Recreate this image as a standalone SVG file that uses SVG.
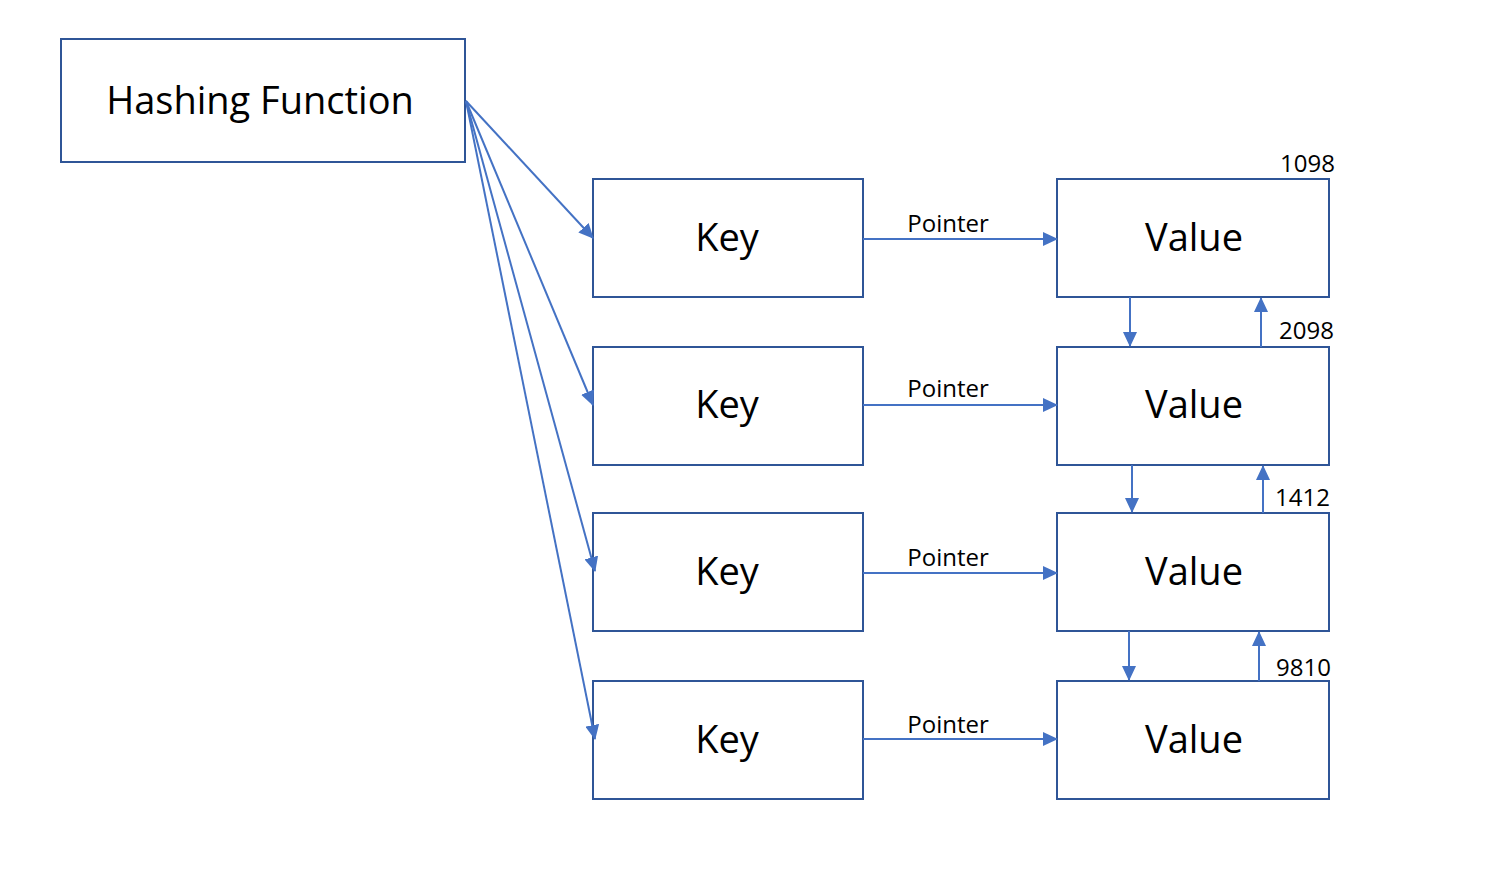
<svg xmlns="http://www.w3.org/2000/svg" width="1502" height="876" viewBox="0 0 1502 876">
<style>
.box{fill:#fff;stroke:#2F5597;stroke-width:2}
.big{font-family:"Open Sans","Noto Sans",sans-serif;font-size:38px;fill:#000;text-anchor:middle;dominant-baseline:central}
.lbl{font-family:"Open Sans","Noto Sans",sans-serif;font-size:24px;fill:#000}
.c{stroke:#4472C4;stroke-width:2;fill:none;marker-end:url(#ah)}
</style>
<defs>
<marker id="ah" viewBox="0 0 15 14" refX="14" refY="7" markerWidth="15" markerHeight="14" markerUnits="userSpaceOnUse" orient="auto">
<path d="M0,0 L15,7 L0,14 z" fill="#4472C4"/>
</marker>
</defs>
<rect width="1502" height="876" fill="#fff"/>
<g id="hash"><rect class="box" x="61" y="39" width="404" height="123"/><text class="big" x="260" y="99" font-size="35.5">Hashing Function</text></g>
<g id="key1"><rect class="box" x="593" y="179" width="270" height="118"/><text class="big" x="727" y="236">Key</text></g>
<g id="key2"><rect class="box" x="593" y="347" width="270" height="118"/><text class="big" x="727" y="403">Key</text></g>
<g id="key3"><rect class="box" x="593" y="513" width="270" height="118"/><text class="big" x="727" y="570">Key</text></g>
<g id="key4"><rect class="box" x="593" y="681" width="270" height="118"/><text class="big" x="727" y="738">Key</text></g>
<g id="val1"><rect class="box" x="1057" y="179" width="272" height="118"/><text class="big" x="1194" y="236">Value</text></g>
<g id="val2"><rect class="box" x="1057" y="347" width="272" height="118"/><text class="big" x="1194" y="403">Value</text></g>
<g id="val3"><rect class="box" x="1057" y="513" width="272" height="118"/><text class="big" x="1194" y="570">Value</text></g>
<g id="val4"><rect class="box" x="1057" y="681" width="272" height="118"/><text class="big" x="1194" y="738">Value</text></g>
<g id="connectors">
<line class="c" x1="466" y1="101" x2="593" y2="238"/>
<line class="c" x1="466" y1="101" x2="593" y2="405"/>
<line class="c" x1="466" y1="101" x2="595" y2="571"/>
<line class="c" x1="466" y1="101" x2="595" y2="739"/>
<line class="c" x1="863" y1="239" x2="1057" y2="239"/>
<line class="c" x1="863" y1="405" x2="1057" y2="405"/>
<line class="c" x1="863" y1="573" x2="1057" y2="573"/>
<line class="c" x1="863" y1="739" x2="1057" y2="739"/>
<line class="c" x1="1130" y1="297" x2="1130" y2="346"/>
<line class="c" x1="1261" y1="347" x2="1261" y2="298"/>
<line class="c" x1="1132" y1="465" x2="1132" y2="512"/>
<line class="c" x1="1263" y1="513" x2="1263" y2="466"/>
<line class="c" x1="1129" y1="631" x2="1129" y2="680"/>
<line class="c" x1="1259" y1="681" x2="1259" y2="632"/>
</g>
<g id="labels">
<text class="lbl" x="948" y="232" text-anchor="middle">Pointer</text>
<text class="lbl" x="948" y="397" text-anchor="middle">Pointer</text>
<text class="lbl" x="948" y="566" text-anchor="middle">Pointer</text>
<text class="lbl" x="948" y="733" text-anchor="middle">Pointer</text>
<text class="lbl" x="1335" y="172" text-anchor="end">1098</text>
<text class="lbl" x="1334" y="339" text-anchor="end">2098</text>
<text class="lbl" x="1330" y="506" text-anchor="end">1412</text>
<text class="lbl" x="1331" y="676" text-anchor="end">9810</text>
</g>
</svg>
